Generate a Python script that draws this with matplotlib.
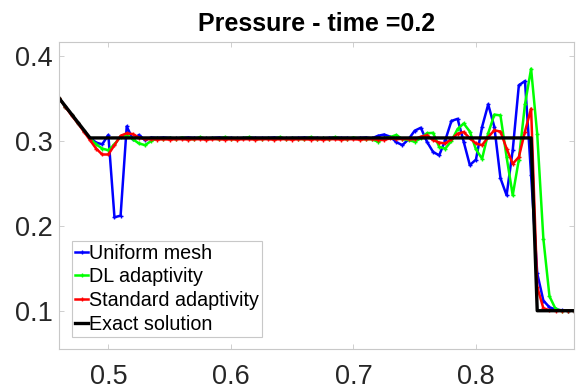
"""
Pressure profile at t = 0.2 for the shock tube: uniform mesh,
DL adaptivity and standard adaptivity against the exact solution.
"""
import numpy as np
import matplotlib
matplotlib.use("Agg")
import matplotlib.pyplot as plt

plt.rcParams['font.family'] = ['Liberation Sans', 'DejaVu Sans']

# mesh nodes, 0.46 .. 0.88 with h = 0.005
x_mesh = np.linspace(0.46, 0.88, 85)

p_uniform = [
    0.350, 0.340, 0.331, 0.321, 0.312, 0.304, 0.298, 0.296, 0.307, 0.210,
    0.212, 0.317, 0.302, 0.307, 0.301, 0.304, 0.3035, 0.304, 0.3035, 0.303,
    0.3035, 0.304, 0.3035, 0.3035, 0.303, 0.3035, 0.304, 0.3035, 0.3035, 0.303,
    0.3035, 0.304, 0.3035, 0.3035, 0.3035, 0.304, 0.3035, 0.303, 0.3035, 0.3035,
    0.304, 0.3035, 0.3035, 0.303, 0.3035, 0.304, 0.3035, 0.3035, 0.303, 0.3035,
    0.304, 0.303, 0.306, 0.3075, 0.305, 0.2985, 0.295, 0.302, 0.312, 0.3155,
    0.299, 0.287, 0.283, 0.301, 0.3235, 0.326, 0.299, 0.2715, 0.278, 0.3165,
    0.343, 0.3165, 0.256, 0.236, 0.289, 0.3655, 0.3705, 0.260, 0.144, 0.112,
    0.104, 0.1015, 0.1005, 0.100, 0.100,
]

p_dl = [
    0.350, 0.340, 0.331, 0.321, 0.312, 0.303, 0.296, 0.291, 0.289, 0.296,
    0.305, 0.307, 0.302, 0.297, 0.295, 0.300, 0.303, 0.302, 0.3035, 0.302,
    0.304, 0.3025, 0.302, 0.3045, 0.302, 0.303, 0.302, 0.3045, 0.3025, 0.302,
    0.303, 0.3045, 0.302, 0.3025, 0.303, 0.302, 0.3045, 0.302, 0.303, 0.3025,
    0.302, 0.3045, 0.302, 0.303, 0.302, 0.3045, 0.3025, 0.302, 0.304, 0.3025,
    0.302, 0.302, 0.299, 0.303, 0.3045, 0.307, 0.302, 0.301, 0.299, 0.303,
    0.309, 0.3095, 0.293, 0.291, 0.300, 0.314, 0.3205, 0.311, 0.290, 0.279,
    0.309, 0.331, 0.330, 0.281, 0.236, 0.278, 0.343, 0.385, 0.308, 0.185,
    0.117, 0.102, 0.100, 0.100, 0.100,
]

p_standard = [
    0.350, 0.340, 0.330, 0.321, 0.311, 0.301, 0.291, 0.284, 0.284, 0.295,
    0.306, 0.309, 0.308, 0.304, 0.302, 0.302, 0.3015, 0.302, 0.3015, 0.302,
    0.302, 0.3015, 0.302, 0.302, 0.3015, 0.302, 0.302, 0.3015, 0.302, 0.3015,
    0.302, 0.302, 0.3015, 0.302, 0.302, 0.3015, 0.302, 0.302, 0.3015, 0.302,
    0.302, 0.3015, 0.302, 0.3015, 0.302, 0.302, 0.3015, 0.302, 0.302, 0.3015,
    0.302, 0.302, 0.3015, 0.301, 0.303, 0.302, 0.3025, 0.302, 0.302, 0.305,
    0.3065, 0.301, 0.298, 0.297, 0.302, 0.3085, 0.3105, 0.303, 0.297, 0.295,
    0.3045, 0.3125, 0.311, 0.291, 0.273, 0.281, 0.311, 0.338, 0.128, 0.103,
    0.1005, 0.100, 0.100, 0.100, 0.100,
]

x_exact = [0.46, 0.485, 0.845, 0.850, 0.88]
p_exact = [0.350, 0.3035, 0.3035, 0.100, 0.100]

labels = ["Uniform mesh", "DL adaptivity", "Standard adaptivity", "Exact solution"]

fig = plt.figure(figsize=(5.76, 3.89), dpi=100)
ax = fig.add_axes([0.103, 0.103, 0.8935, 0.788])

style = dict(marker='+', markersize=3.5, markeredgewidth=1.0, linewidth=1.8)
ax.plot(x_mesh, p_uniform, color='#0000ff', label=labels[0], **style)
ax.plot(x_mesh, p_dl, color='#00ff00', label=labels[1], **style)
ax.plot(x_mesh, p_standard, color='#ff0000', label=labels[2], **style)
ax.plot(x_exact, p_exact, color='black', linewidth=2.4, label=labels[3])

ax.set_xlim(0.46, 0.88)
ax.set_ylim(0.055, 0.416)
ax.set_xticks([0.5, 0.6, 0.7, 0.8])
ax.set_yticks([0.1, 0.2, 0.3, 0.4])

for s in ax.spines.values():
    s.set_color('#c8c8c8')
    s.set_linewidth(0.8)
ax.tick_params(direction='in', length=3.5, width=0.6, color='#c8c8c8',
               top=True, right=True, labelsize=19.5, labelcolor='#262626')
ax.tick_params(axis='x', pad=11)
ax.tick_params(axis='y', pad=5)

ax.set_title("Pressure - time =0.2", fontsize=18, fontweight='bold', pad=8)

leg = ax.legend(loc='lower left', bbox_to_anchor=(0.0253, 0.040),
                borderaxespad=0, fontsize=14.2, frameon=True, fancybox=False,
                framealpha=1, edgecolor='#c8c8c8', handlelength=0.65,
                handletextpad=0.05, borderpad=0.15, labelspacing=0.24,
                markerscale=1.0)
leg.get_frame().set_linewidth(0.8)

plt.savefig("out.png", dpi=100)
